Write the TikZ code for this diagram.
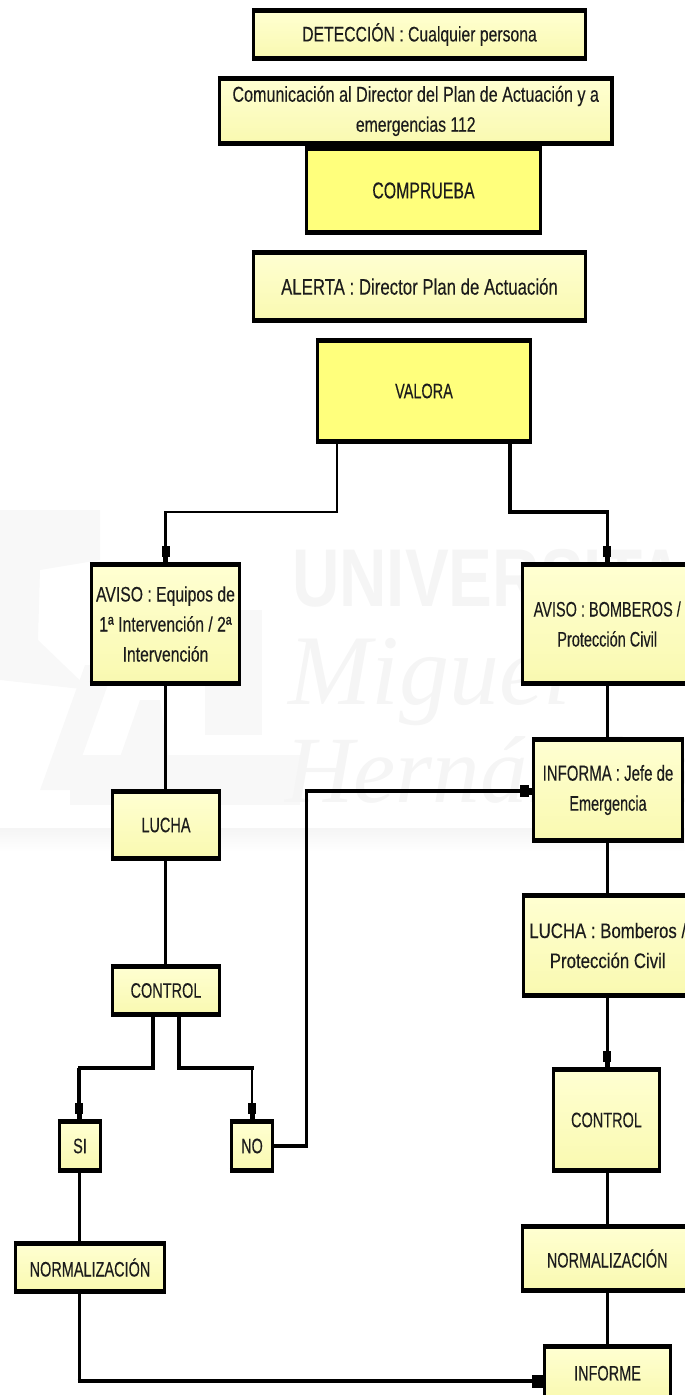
\documentclass[tikz,border=0pt]{standalone}
\usepackage{fontspec}
\setmainfont{Liberation Sans}
\newfontfamily\boxfont[FakeStretch=0.75,FakeBold=0.25]{Liberation Sans}
\newfontfamily\capfont[FakeStretch=0.69,FakeBold=0.25]{Liberation Sans}
\newfontfamily\widefont[FakeStretch=0.80,FakeBold=0.25]{Liberation Sans}
\newfontfamily\wmsans[FakeStretch=0.80]{Liberation Sans}
\newfontfamily\wmserif{Liberation Serif}
\usetikzlibrary{arrows.meta,calc}
\definecolor{pale}{HTML}{F9F9B0}
\definecolor{paletop}{HTML}{FFFFD2}
\definecolor{strong}{HTML}{FFFF7C}
\definecolor{ink}{HTML}{1C1C1C}
\definecolor{wm}{HTML}{F5F5F5}
\definecolor{wmlight}{HTML}{F8F8F8}
\tikzset{
  x=1pt,y=-1pt,
  flowbox/.style={draw=black,line width=3.2pt,top color=paletop,bottom color=pale,inner sep=0pt,outer sep=0pt,
    align=center,text=ink,font=\boxfont\fontsize{21}{30}\selectfont,
    append after command={
      (\tikzlastnode.north west) edge[draw=black,line width=4.8pt,shorten <=-1.6pt,shorten >=-1.6pt] (\tikzlastnode.north east)
      (\tikzlastnode.south west) edge[draw=black,line width=4.8pt,shorten <=-1.6pt,shorten >=-1.6pt] (\tikzlastnode.south east)}},
  capbox/.style={flowbox,font=\capfont\fontsize{21}{30}\selectfont},
  strongbox/.style={capbox,top color=strong,bottom color=strong},
  vwire/.style={draw=black,line width=3pt,line cap=rect},
  vheavy/.style={draw=black,line width=3.4pt,line cap=rect},
  vthin/.style={draw=black,line width=1.9pt,line cap=rect},
  hwire/.style={draw=black,line width=4pt,shorten <=-1.5pt,shorten >=-1.5pt},
  hthin/.style={draw=black,line width=2.7pt,shorten <=-1pt,shorten >=-1.5pt},
  tipv/.style={-{Rectangle[length=11pt,width=8pt]Rectangle[length=8pt,width=5pt]},line cap=butt},
  tiph/.style={-{Rectangle[length=9pt,width=12pt]Rectangle[length=5pt,width=7pt]},shorten >=0pt},
  tipend/.style={-{Rectangle[length=13pt,width=13pt]},shorten >=0pt},
  watermark/.style={text=wm,inner sep=0pt,anchor=west},
  wmshape/.style={fill=wmlight,draw=none}
}
\newcommand{\placebox}[7][flowbox]{% style, name, x0,y0,x1,y1, text
  \node[#1,minimum width=#5-#3,minimum height=#6-#4] (#2) at ({(#3+#5)/2},{(#4+#6)/2}) {#7};}
\begin{document}
\begin{tikzpicture}
\useasboundingbox (0,0) rectangle (685,1395);
\clip (0,0) rectangle (685,1395);
% watermark
\shade[top color=wm,bottom color=white] (0,828) rectangle (685,852);
\fill[wmshape] (0,510) -- (100,510) -- (100,560) -- (40,570) -- (38,640) -- (90,690) -- (0,680) -- cycle;
\fill[wmshape] (205,610) rectangle (262,735);
\fill[wmshape] (40,790) -- (85,665) -- (115,665) -- (70,790) -- cycle;
\fill[wmshape] (105,800) -- (140,700) -- (160,700) -- (175,800) -- cycle;
\fill[wmshape] (70,755) rectangle (300,805);
\node[watermark] (wmu) at (292,578) {\wmsans\bfseries\fontsize{82}{82}\selectfont UNIVERSITAS};
\node[watermark] (wmm) at (288,680) {\wmserif\itshape\fontsize{100}{100}\selectfont Miguel};
\node[watermark] (wmh) at (285,770) {\wmserif\itshape\fontsize{95}{95}\selectfont Hernández};
% boxes
\placebox{det}{253.5}{10.5}{585.5}{58.5}{DETECCIÓN : Cualquier persona}
\placebox{com}{219.5}{78.5}{612}{143.5}{\fontsize{21.5}{30}\selectfont Comunicación al Director del Plan de Actuación y a\\emergencias 112}
\placebox[strongbox]{comp}{306.5}{148.5}{540.5}{232.5}{\fontsize{23}{23}\selectfont COMPRUEBA}
\placebox{ale}{253.5}{252.5}{585.5}{320.5}{\fontsize{22.4}{23}\selectfont ALERTA : Director Plan de Actuación}
\placebox[strongbox]{val}{317.5}{340.5}{530.5}{441.5}{VALORA}
\placebox{avl}{91.5}{564.5}{239.5}{683.5}{AVISO : Equipos de\\1ª Intervención / 2ª\\Intervención}
\placebox[capbox]{avr}{522.5}{564.5}{692}{683.5}{AVISO : BOMBEROS /\\Protección Civil}
\placebox[capbox]{lul}{112.5}{791.5}{219.5}{858.5}{LUCHA}
\placebox[capbox]{inf}{533.5}{739.5}{682.5}{840.5}{\fontsize{21.7}{30}\selectfont INFORMA : Jefe de\\Emergencia}
\placebox[flowbox,font=\widefont\fontsize{21}{30}\selectfont]{lur}{523.5}{895.5}{692}{995.5}{LUCHA : Bomberos /\\Protección Civil}
\placebox[capbox]{col}{112.5}{966.5}{219.5}{1014.5}{CONTROL}
\placebox[capbox]{si}{59.5}{1121.5}{100.5}{1170.5}{SI}
\placebox[capbox]{no}{231.5}{1121.5}{272.5}{1170.5}{NO}
\placebox[capbox]{corr}{553.5}{1069.5}{659.5}{1170.5}{CONTROL}
\placebox[capbox]{norl}{15.5}{1243.5}{164.5}{1291.5}{NORMALIZACIÓN}
\placebox[capbox]{norr}{522.5}{1226.5}{692}{1290.5}{NORMALIZACIÓN}
\placebox[capbox]{rep}{544.5}{1346.5}{670.5}{1400}{INFORME}
% junction points
\coordinate (vl) at (337,441.5);
\coordinate (vr) at (510,441.5);
\coordinate (bend) at (0,512);
\coordinate (cl) at (153,1014.5);
\coordinate (cr) at (179,1014.5);
\coordinate (bend2) at (0,1068);
\coordinate (nox) at (306,1146);
\coordinate (infy) at (0,791);
\coordinate (repy) at (0,1381);
\coordinate (rx) at (607,0);
\coordinate (lx) at (79,0);
\coordinate (ax) at (165.5,0);
% connectors
\draw[vthin] (vl) -- (vl |- bend);
\draw[hthin] (vl |- bend) -- (ax |- bend);
\draw[vwire,tipv] (ax |- bend) -- (ax |- avl.north);
\draw[vheavy] (vr) -- (vr |- bend);
\draw[hwire] (vr |- bend) -- (rx |- bend);
\draw[vwire,tipv] (rx |- bend) -- (rx |- avr.north);
\draw[vwire] (ax |- avl.south) -- (ax |- lul.north);
\draw[vwire] (ax |- lul.south) -- (ax |- col.north);
\draw[vheavy] (cl) -- (cl |- bend2);
\draw[hwire] (cl |- bend2) -- (lx |- bend2);
\draw[vheavy,tipv] (lx |- bend2) -- (lx |- si.north);
\draw[vheavy] (cr) -- (cr |- bend2);
\draw[hwire] (cr |- bend2) -- (no.north |- bend2);
\draw[vthin,tipv] (no.north |- bend2) -- (no.north);
\draw[hwire] (no.east) -- (nox);
\draw[vwire] (nox) -- (nox |- infy);
\draw[hwire,tiph] (nox |- infy) -- (inf.west |- infy);
\draw[vwire] (lx |- si.south) -- (lx |- norl.north);
\draw[vwire] (lx |- norl.south) -- (lx |- repy);
\draw[hwire,tipend] (lx |- repy) -- (rep.west |- repy);
\draw[vwire] (rx |- avr.south) -- (rx |- inf.north);
\draw[vwire] (rx |- inf.south) -- (rx |- lur.north);
\draw[vwire,tipv] (rx |- lur.south) -- (rx |- corr.north);
\draw[vwire] (rx |- corr.south) -- (rx |- norr.north);
\draw[vwire] (rx |- norr.south) -- (rx |- rep.north);
\end{tikzpicture}
\end{document}
